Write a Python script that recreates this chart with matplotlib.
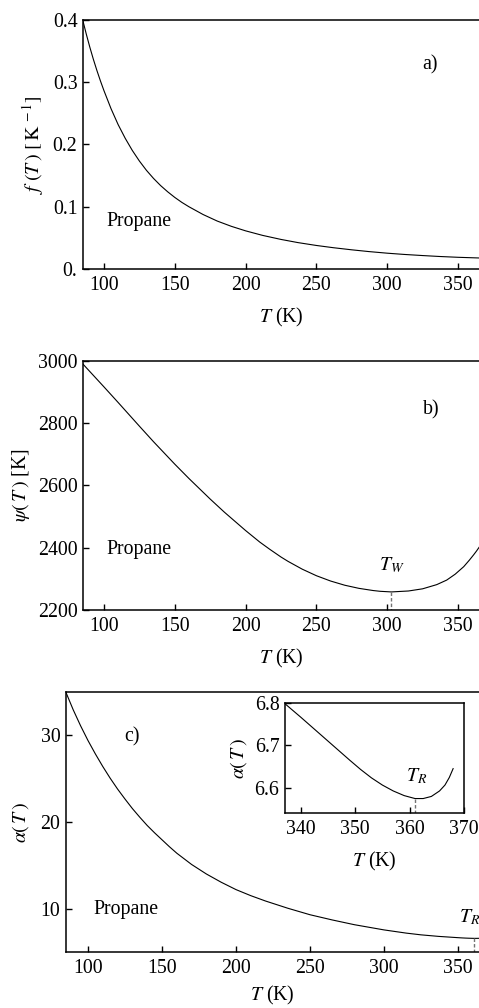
import matplotlib
matplotlib.use("Agg")
import matplotlib.pyplot as plt

# ---------------- data ----------------
T_f = [85, 87.5, 90, 92.5, 95, 97.5, 100, 105, 110, 115, 120, 125, 130, 135, 140, 145, 150, 155,
       160, 170, 180, 190, 200, 212, 225, 237, 250, 262, 275, 287, 300, 312, 325, 337, 350, 365]
f_vals = [0.400, 0.3775, 0.3565, 0.3370, 0.3190, 0.3022, 0.2865, 0.2575, 0.232, 0.210, 0.1905,
          0.1735, 0.1585, 0.1455, 0.134, 0.124, 0.115, 0.107, 0.100, 0.0875, 0.077, 0.0685, 0.0613,
          0.054, 0.0475, 0.0424, 0.0378, 0.0342, 0.0308, 0.028, 0.0254, 0.0234, 0.0216, 0.0201,
          0.0188, 0.0177]

T_psi = [85, 100, 110, 125, 135, 150, 160, 175, 185, 200, 210, 217, 225, 230, 240, 250, 260, 270,
         280, 290, 295, 303, 315, 325, 335, 342, 348, 354, 358, 361, 363, 365]
psi_vals = [2990, 2916, 2866, 2790, 2740, 2668, 2622, 2556, 2514, 2455, 2418, 2395, 2370, 2356,
            2331, 2310, 2293, 2279.5, 2269.5, 2262.5, 2260, 2258, 2261, 2268, 2281.5, 2296, 2315,
            2339, 2360, 2377, 2389, 2402]

T_alpha = [85, 90, 95, 100, 105, 110, 115, 120, 125, 130, 135, 140, 145, 150, 155, 160, 170, 180,
           190, 200, 210, 220, 235, 250, 265, 280, 300, 315, 325, 337, 340, 343, 346, 349, 351, 353,
           355, 357, 359, 361, 362.5, 364, 365.5, 366.5, 367.3, 368]
alpha_vals = [35.0, 32.95, 31.1, 29.4, 27.85, 26.4, 25.05, 23.8, 22.65, 21.55, 20.55, 19.6, 18.75,
              17.95, 17.15, 16.4, 15.1, 14.0, 13.05, 12.2, 11.5, 10.88, 10.05, 9.3, 8.7, 8.15, 7.55,
              7.18, 6.98, 6.800, 6.767, 6.733, 6.699, 6.665, 6.643, 6.623, 6.606, 6.592, 6.581,
              6.574, 6.574, 6.579, 6.592, 6.606, 6.624, 6.645]

T_W, psi_W = 303.0, 2258
T_R, alpha_R = 361.0, 6.574

f_ticks = [0.0, 0.1, 0.2, 0.3, 0.4]
f_ticklabels = ["0.", "0.1", "0.2", "0.3", "0.4"]
psi_ticks = [2200, 2400, 2600, 2800, 3000]
alpha_ticks = [10, 20, 30]
inset_xticks = [340, 350, 360, 370]
inset_yticks = [6.6, 6.7, 6.8]
T_ticks = [100, 150, 200, 250, 300, 350]

# ---------------- style ----------------
plt.rcParams.update({
    "font.family": ["Liberation Serif", "DejaVu Serif"],
    "mathtext.fontset": "stix",
    "font.size": 14.3,
    "axes.linewidth": 1.1,
    "xtick.direction": "in",
    "ytick.direction": "in",
    "xtick.major.size": 4.3,
    "ytick.major.size": 4.3,
    "xtick.major.width": 1.0,
    "ytick.major.width": 1.0,
    "xtick.major.pad": 5,
    "ytick.major.pad": 4,
})

W, H = 479, 1008
fig = plt.figure(figsize=(W / 100, H / 100), dpi=100)


def axes_px(left, top, right, bottom):
    return fig.add_axes([left / W, 1 - bottom / H, (right - left) / W, (bottom - top) / H])


def style(ax):
    ax.spines["right"].set_visible(False)
    ax.tick_params(top=False, right=False)


lw = 0.8
dash_kw = dict(color="0.45", lw=1.0, linestyle=(0, (2.5, 1.5)))

# ---------------- panel a ----------------
ax_a = axes_px(83, 20, 479, 269)
style(ax_a)
ax_a.plot(T_f, f_vals, color="black", lw=lw)
ax_a.set_xlim(85.2, 364.8)
ax_a.set_ylim(0, 0.4)
ax_a.set_xticks(T_ticks)
ax_a.set_yticks(f_ticks)
ax_a.set_yticklabels(f_ticklabels)
ax_a.set_xlabel(r"$T$ (K)", labelpad=8)
ax_a.set_ylabel(r"$f\ (T\,)\ [\,\mathrm{K}^{\,-1}]$", labelpad=5)
ax_a.text(102, 0.077, "Propane", ha="left", va="center")
ax_a.text(330, 0.328, "a)", ha="center", va="center")

# ---------------- panel b ----------------
ax_b = axes_px(83, 360.7, 479, 610)
style(ax_b)
ax_b.plot(T_psi, psi_vals, color="black", lw=lw)
ax_b.set_xlim(85.2, 364.8)
ax_b.set_ylim(2200, 3000)
ax_b.set_xticks(T_ticks)
ax_b.set_yticks(psi_ticks)
ax_b.set_xlabel(r"$T$ (K)", labelpad=8)
ax_b.set_ylabel(r"$\psi(\,T\,)$ [K]", labelpad=4)
ax_b.plot([T_W, T_W], [psi_W, 2200], **dash_kw)
ax_b.text(T_W, 2344, r"$T_W$", ha="center", va="center")
ax_b.text(102, 2395, "Propane", ha="left", va="center")
ax_b.text(331, 2842, "b)", ha="center", va="center")

# ---------------- panel c ----------------
ax_c = axes_px(66, 692, 479, 952)
style(ax_c)
ax_c.plot(T_alpha, alpha_vals, color="black", lw=lw)
ax_c.set_xlim(85.14, 364.2)
ax_c.set_ylim(5, 35)
ax_c.set_xticks(T_ticks)
ax_c.set_yticks(alpha_ticks)
ax_c.set_xlabel(r"$T$ (K)", labelpad=4)
ax_c.set_ylabel(r"$\alpha(\,T\,)$", labelpad=7)
ax_c.plot([T_R, T_R], [alpha_R, 5], **dash_kw)
ax_c.text(350.5, 9.0, r"$T_R$", ha="left", va="center")
ax_c.text(103.4, 9.9, "Propane", ha="left", va="center")
ax_c.text(129.7, 29.85, "c)", ha="center", va="center")

# ---------------- inset ----------------
ax_i = axes_px(285, 703.3, 464, 813.3)
ax_i.plot(T_alpha, alpha_vals, color="black", lw=lw)
ax_i.set_xlim(337.1, 369.7)
ax_i.set_ylim(6.539, 6.8)
ax_i.set_xticks(inset_xticks)
ax_i.set_yticks(inset_yticks)
ax_i.tick_params(top=False, right=False)
ax_i.set_xlabel(r"$T$ (K)", labelpad=8)
ax_i.set_ylabel(r"$\alpha(\,T\,)$", labelpad=4)
ax_i.plot([T_R, T_R], [alpha_R, 6.539], **dash_kw)
ax_i.text(361.2, 6.626, r"$T_R$", ha="center", va="center")

fig.savefig("out.png", dpi=100)
